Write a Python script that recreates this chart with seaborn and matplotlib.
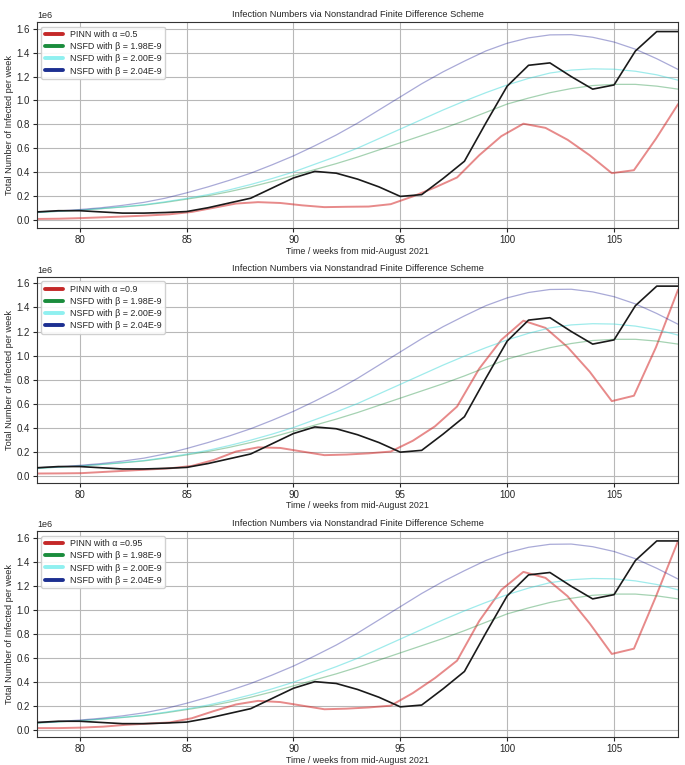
import matplotlib
matplotlib.use('Agg')
import matplotlib.pyplot as plt
import numpy as np
import seaborn as sns

# weeks from mid-August 2021
weeks = list(range(78, 109))
pinn_weeks = np.linspace(78, 108, 30)

# reported cases (millions per week)
reported = [0.065, 0.075, 0.075, 0.065, 0.055, 0.055, 0.060, 0.068, 0.100, 0.140,
            0.180, 0.265, 0.350, 0.405, 0.390, 0.340, 0.275, 0.195, 0.210, 0.345,
            0.490, 0.810, 1.120, 1.295, 1.315, 1.200, 1.095, 1.130, 1.415, 1.578, 1.578]

# NSFD runs (millions per week)
nsfd_198 = [0.060, 0.070, 0.080, 0.092, 0.106, 0.122, 0.145, 0.172, 0.200, 0.235,
            0.275, 0.320, 0.370, 0.420, 0.470, 0.525, 0.585, 0.645, 0.705, 0.765,
            0.830, 0.900, 0.970, 1.020, 1.065, 1.100, 1.125, 1.135, 1.135, 1.120, 1.095]
nsfd_200 = [0.060, 0.070, 0.080, 0.093, 0.108, 0.125, 0.150, 0.178, 0.210, 0.250,
            0.295, 0.345, 0.400, 0.465, 0.530, 0.600, 0.680, 0.760, 0.840, 0.920,
            0.995, 1.065, 1.130, 1.185, 1.230, 1.255, 1.265, 1.262, 1.245, 1.215, 1.170]
nsfd_204 = [0.065, 0.073, 0.085, 0.100, 0.120, 0.145, 0.180, 0.225, 0.275, 0.330,
            0.390, 0.460, 0.535, 0.620, 0.710, 0.810, 0.920, 1.030, 1.140, 1.240,
            1.330, 1.415, 1.480, 1.525, 1.550, 1.552, 1.530, 1.490, 1.430, 1.350, 1.260]

# PINN predictions for the three fractional orders (millions per week)
pinn_05 = [0.006, 0.008, 0.013, 0.020, 0.027, 0.035, 0.045, 0.065, 0.100, 0.135,
           0.147, 0.140, 0.120, 0.105, 0.108, 0.110, 0.130, 0.195, 0.270, 0.354,
           0.540, 0.700, 0.805, 0.770, 0.670, 0.540, 0.390, 0.415, 0.680, 0.970]
pinn_09 = [0.017, 0.018, 0.020, 0.030, 0.040, 0.050, 0.060, 0.080, 0.130, 0.200,
           0.235, 0.230, 0.200, 0.170, 0.175, 0.185, 0.200, 0.290, 0.410, 0.575,
           0.890, 1.130, 1.290, 1.230, 1.070, 0.865, 0.620, 0.665, 1.070, 1.550]
pinn_095 = [0.018, 0.018, 0.022, 0.030, 0.045, 0.055, 0.065, 0.100, 0.160, 0.215,
            0.245, 0.235, 0.205, 0.175, 0.180, 0.190, 0.205, 0.310, 0.435, 0.580,
            0.910, 1.170, 1.320, 1.270, 1.117, 0.890, 0.636, 0.680, 1.117, 1.580]

alphas = ['0.5', '0.9', '0.95']
pinn_runs = [pinn_05, pinn_09, pinn_095]

sns.set_style('ticks')
plt.rcParams['font.family'] = ['Liberation Sans Narrow', 'Liberation Sans', 'DejaVu Sans']
plt.rcParams['font.size'] = 7

fig, axes = plt.subplots(3, 1, figsize=(6.85, 7.65), dpi=100)
fig.subplots_adjust(left=0.054, right=0.99, top=0.971, bottom=0.036, hspace=0.235)

for ax, a, pinn in zip(axes, alphas, pinn_runs):
    sns.lineplot(x=pinn_weeks, y=np.array(pinn) * 1e6, ax=ax, color='#d42a2a',
                 alpha=0.55, linewidth=1.4, label=f'PINN with α ={a}')
    sns.lineplot(x=weeks, y=np.array(nsfd_198) * 1e6, ax=ax, color='#1f8f3f',
                 alpha=0.4, linewidth=0.9, label='NSFD with β = 1.98E-9')
    sns.lineplot(x=weeks, y=np.array(nsfd_200) * 1e6, ax=ax, color='#40d8d8',
                 alpha=0.5, linewidth=0.9, label='NSFD with β = 2.00E-9')
    sns.lineplot(x=weeks, y=np.array(nsfd_204) * 1e6, ax=ax, color='#2a2b9c',
                 alpha=0.4, linewidth=0.9, label='NSFD with β = 2.04E-9')
    sns.lineplot(x=weeks, y=np.array(reported) * 1e6, ax=ax, color='#1a1a1a',
                 linewidth=1.2, zorder=5)

    ax.set_xlim(78, 108)
    ax.set_xticks([80, 85, 90, 95, 100, 105])
    ax.grid(True, color='#b8b8b8', linewidth=0.8)
    ax.set_title('Infection Numbers via Nonstandrad Finite Difference Scheme',
                 fontsize=6.7, pad=4)
    ax.set_xlabel('Time / weeks from mid-August 2021', fontsize=6.4, labelpad=1)
    ax.set_ylabel('Total Number of Infected per week', fontsize=6.6, labelpad=2)
    ax.tick_params(labelsize=7, length=3, pad=2)
    ax.yaxis.get_offset_text().set_fontsize(6.5)
    for sp in ax.spines.values():
        sp.set_color('#333333')
        sp.set_linewidth(0.8)

    handles, labels = ax.get_legend_handles_labels()
    leg = ax.legend(handles[:4], labels[:4], loc='upper left', fontsize=6.4,
                    framealpha=0.9, handlelength=2.0, borderpad=0.4, labelspacing=0.35)
    leg_colors = ['#c42828', '#1a8c3c', '#8ff0f0', '#1c2f91']
    for h, c in zip(leg.legend_handles, leg_colors):
        h.set_color(c)
        h.set_alpha(1)
        h.set_linewidth(2.8)

fig.savefig('out.png', dpi=100)
